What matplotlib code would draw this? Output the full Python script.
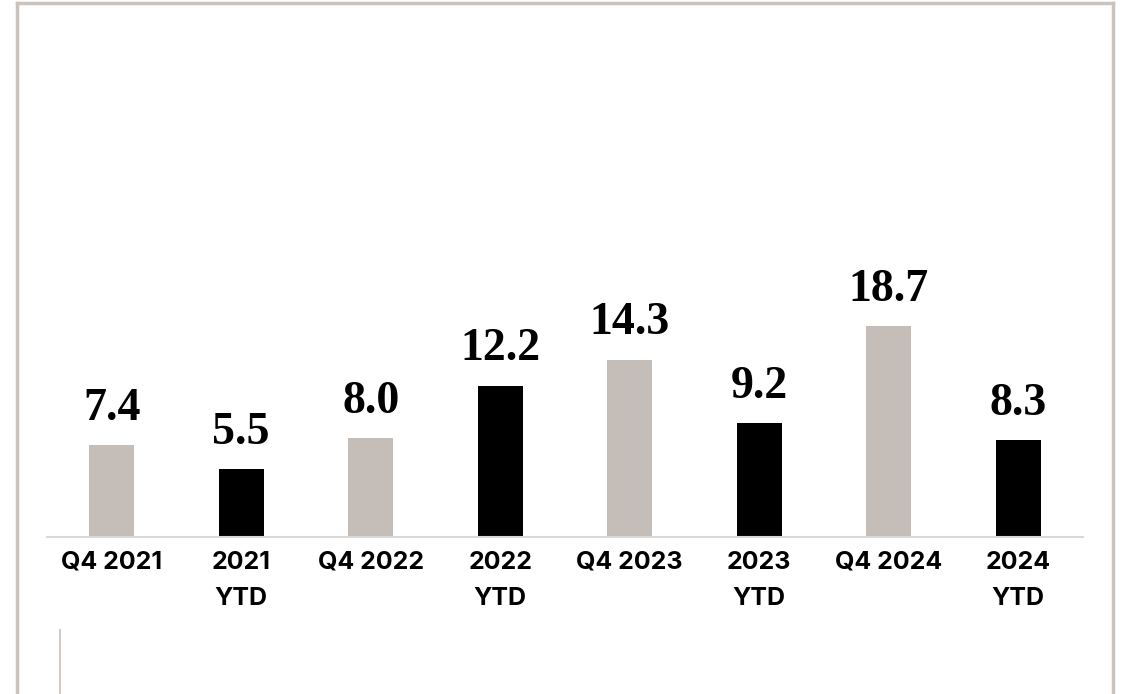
import matplotlib.pyplot as plt
from matplotlib.lines import Line2D

# categories and values (bar heights, labels as printed)
categories = ["Q4 2021", "2021\nYTD", "Q4 2022", "2022\nYTD",
              "Q4 2023", "2023\nYTD", "Q4 2024", "2024\nYTD"]
values = [7.4, 5.5, 8.0, 12.2, 14.3, 9.2, 17.0, 7.8]
value_labels = ["7.4", "5.5", "8.0", "12.2", "14.3", "9.2", "18.7", "8.3"]
bar_colors = ["#c5bdb7", "#000000"] * 4

W, H = 1122, 694
fig = plt.figure(figsize=(W / 100, H / 100), dpi=100)

# axes placed in pixel terms: baseline at y=537, categories from x=47 to 1083
left, right = 47, 1083
base_y, top_y = 537, 100
ax = fig.add_axes([left / W, (H - base_y) / H, (right - left) / W, (base_y - top_y) / H])

x = range(len(categories))
bars = ax.bar(x, values, width=0.35, color=bar_colors)

ax.set_xlim(-0.5, len(categories) - 0.5)
ax.set_ylim(0, (base_y - top_y) / 12.4)

for b, lab in zip(bars, value_labels):
    ax.annotate(lab, (b.get_x() + b.get_width() / 2, b.get_height()),
                xytext=(0, 11), textcoords="offset points",
                ha="center", va="bottom", fontsize=33, fontweight="bold",
                family="Liberation Serif", color="#000000")

for s in ["left", "right", "top"]:
    ax.spines[s].set_visible(False)
ax.spines["bottom"].set_color("#d9d9d9")
ax.spines["bottom"].set_linewidth(1.5)
ax.set_yticks([])
ax.set_xticks(list(x))
ax.set_xticklabels(categories, fontsize=18, fontweight="bold",
                   family="Inter", linespacing=1.75)
ax.tick_params(axis="x", length=0, pad=10)

# frame around the chart (bottom edge falls outside the image)
frame_col = "#cbc4be"
fig.add_artist(Line2D([17 / W, 17 / W], [0, 1 - 2.5 / H], color=frame_col, lw=2.5))
fig.add_artist(Line2D([1112.5 / W, 1112.5 / W], [0, 1 - 2.5 / H], color=frame_col, lw=2.5))
fig.add_artist(Line2D([17 / W, 1112.5 / W], [1 - 2.5 / H, 1 - 2.5 / H], color=frame_col, lw=2.5))
# small vertical rule at the bottom left
fig.add_artist(Line2D([60 / W, 60 / W], [0, 1 - 630 / H], color=frame_col, lw=1.3))

fig.savefig("out.png", dpi=100, facecolor="white")
